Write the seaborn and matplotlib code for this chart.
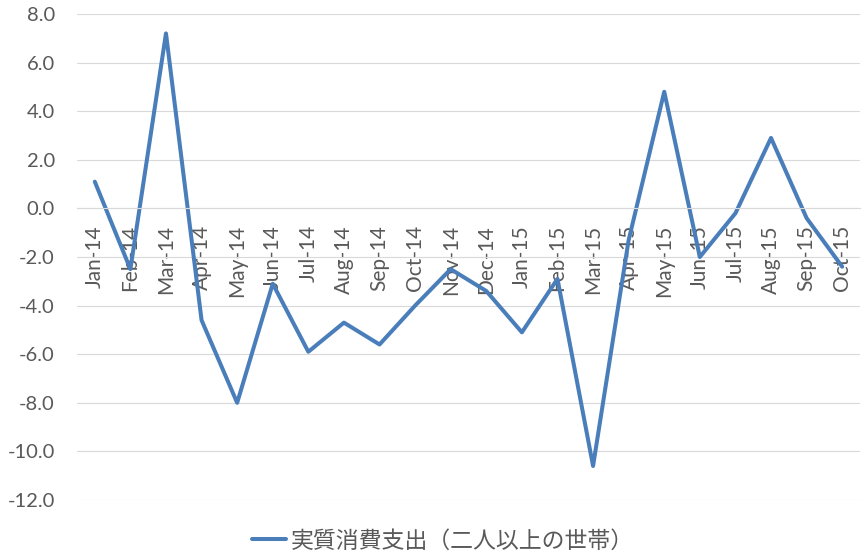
import numpy as np
import pandas as pd
import matplotlib
matplotlib.use("Agg")
import matplotlib.pyplot as plt
import seaborn as sns

# Month labels and values (real household consumption, YoY %)
months = ["Jan-14", "Feb-14", "Mar-14", "Apr-14", "May-14", "Jun-14", "Jul-14",
          "Aug-14", "Sep-14", "Oct-14", "Nov-14", "Dec-14", "Jan-15", "Feb-15",
          "Mar-15", "Apr-15", "May-15", "Jun-15", "Jul-15", "Aug-15", "Sep-15",
          "Oct-15"]
values = [1.1, -2.5, 7.2, -4.6, -8.0, -3.1, -5.9, -4.7, -5.6, -4.0, -2.5, -3.4,
          -5.1, -2.9, -10.6, -1.3, 4.8, -2.0, -0.2, 2.9, -0.4, -2.4]
series_name = "実質消費支出（二人以上の世帯）"
y_ticks = [8.0, 6.0, 4.0, 2.0, 0.0, -2.0, -4.0, -6.0, -8.0, -10.0, -12.0]

sns.set_style("white")
plt.rcParams["font.family"] = ["Lato", "Noto Sans CJK JP", "DejaVu Sans"]

df = pd.DataFrame({"pos": np.arange(len(months)), "value": values, "month": months})

fig = plt.figure(figsize=(8.63, 5.55), dpi=100)
ax = fig.add_axes([77 / 863, 1 - 500 / 555, 783 / 863, 486 / 555])

sns.lineplot(data=df, x="pos", y="value", ax=ax, color="#4A7EBB",
             linewidth=2.9, label=series_name, legend=False)

ax.set_xlim(-0.5, len(months) - 0.5)
ax.set_ylim(-12, 8)
ax.set_yticks(y_ticks)
ax.set_yticklabels([f"{v:.1f}" for v in y_ticks], fontsize=14.5, color="#595959")
ax.yaxis.grid(True, color="#D9D9D9", linewidth=0.8)
ax.set_axisbelow(True)

# category axis sits on the zero line
for s in ["top", "right", "left"]:
    ax.spines[s].set_visible(False)
ax.spines["bottom"].set_position(("data", 0))
ax.spines["bottom"].set_color("#D9D9D9")
ax.spines["bottom"].set_linewidth(0.8)
ax.set_xticks(df["pos"])
ax.set_xticklabels(months, rotation=90, fontsize=15, color="#595959")
ax.set_xticks(np.arange(-0.5, len(months), 1), minor=True)
ax.tick_params(axis="x", which="major", length=0, pad=12)
ax.tick_params(axis="x", which="minor", length=5, color="#D9D9D9", width=0.8, direction="out")
ax.tick_params(axis="y", length=0, pad=16)
for lab in ax.get_xticklabels():
    lab.set_verticalalignment("top")
ax.set_xlabel("")
ax.set_ylabel("")

handles, labels = ax.get_legend_handles_labels()
leg = fig.legend(handles, labels, loc="center", bbox_to_anchor=(0.513, 1 - 541 / 555),
                 frameon=False, fontsize=16.5, handlelength=1.5, handletextpad=0.2)
for t in leg.get_texts():
    t.set_color("#595959")
    t.set_family(["Noto Sans CJK JP", "DejaVu Sans"])

fig.savefig("out.png", dpi=100)
